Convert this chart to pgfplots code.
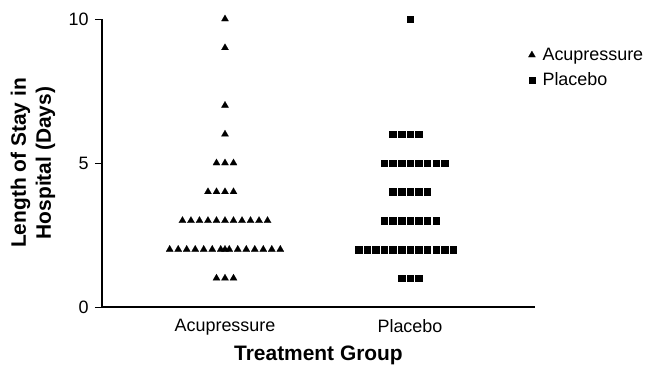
\documentclass[border=0pt]{standalone}
\usepackage{fontspec}
\setmainfont{Liberation Sans}
\usepackage{pgfplots}
\pgfplotsset{compat=1.18}
\begin{document}
\begin{tikzpicture}
\begin{axis}[
  scale only axis,
  width=433bp, height=288bp,
  xmin=0.335, xmax=2.676,
  ymin=0, ymax=10,
  axis lines*=left,
  axis line style={line width=1.2bp},
  clip=false,
  xtick={1,2},
  xticklabels={Acupressure,Placebo},
  x tick style={draw=none},
  ytick={0,5,10},
  tick align=outside,
  major tick length=7bp,
  y tick style={line width=1bp, black},
  /pgf/number format/assume math mode=true,
  tick label style={font=\fontsize{18}{20}\selectfont},
  xticklabel style={yshift=-2bp},
  yticklabel style={xshift=-3bp},
  xlabel={Treatment Group},
  xlabel style={font=\bfseries\fontsize{21}{24}\selectfont, at={(rel axis cs:0.5,0)}, anchor=center, yshift=-48bp},
  ylabel={Length of Stay in\\Hospital (Days)},
  ylabel style={font=\bfseries\fontsize{21}{25}\selectfont, align=center, at={(rel axis cs:0,0.5)}, anchor=center, yshift=69bp},
  legend style={draw=none, fill=none, at={(0.984,0.903)}, anchor=north west, font=\fontsize{18}{20}\selectfont, row sep=9bp, column sep=6bp, inner sep=0pt, nodes={inner sep=1bp}},
  legend cell align=left,
  legend image code/.code={\draw[#1] plot coordinates {(4bp,0bp)};},
]
\addplot[only marks, mark=triangle*, mark size=4.2bp, mark options={fill=black, draw=black, line width=0.1bp}] coordinates {
 (1,10) (1,9) (1,7) (1,6)
 (0.954,5) (1,5) (1.046,5)
 (0.908,4) (0.954,4) (1,4) (1.046,4)
 (0.770,3) (0.816,3) (0.862,3) (0.908,3) (0.954,3) (1,3) (1.046,3) (1.092,3) (1.138,3) (1.184,3) (1.230,3)
 (0.701,2) (0.747,2) (0.793,2) (0.839,2) (0.885,2) (0.931,2) (0.977,2) (1.000,2) (1.023,2) (1.069,2) (1.115,2) (1.161,2) (1.207,2) (1.253,2) (1.299,2)
 (0.954,1) (1,1) (1.046,1)
};
\addlegendentry{Acupressure}
\addplot[only marks, mark=square*, mark size=3.3bp, mark options={fill=black, draw=black, line width=0.1bp}] coordinates {
 (2,10)
 (1.907,6) (1.953,6) (2,6) (2.047,6)
 (1.860,5) (1.907,5) (1.953,5) (2,5) (2.047,5) (2.093,5) (2.140,5) (2.186,5)
 (1.907,4) (1.953,4) (2,4) (2.047,4) (2.093,4)
 (1.860,3) (1.907,3) (1.953,3) (2,3) (2.047,3) (2.093,3) (2.140,3)
 (1.721,2) (1.767,2) (1.814,2) (1.860,2) (1.907,2) (1.953,2) (2,2) (2.047,2) (2.093,2) (2.140,2) (2.186,2) (2.233,2)
 (1.953,1) (2,1) (2.047,1)
};
\addlegendentry{Placebo}
\path (rel axis cs:0,0) ++(-102bp,-60bp) rectangle ++(649bp,367bp);
\end{axis}
\end{tikzpicture}
\end{document}
